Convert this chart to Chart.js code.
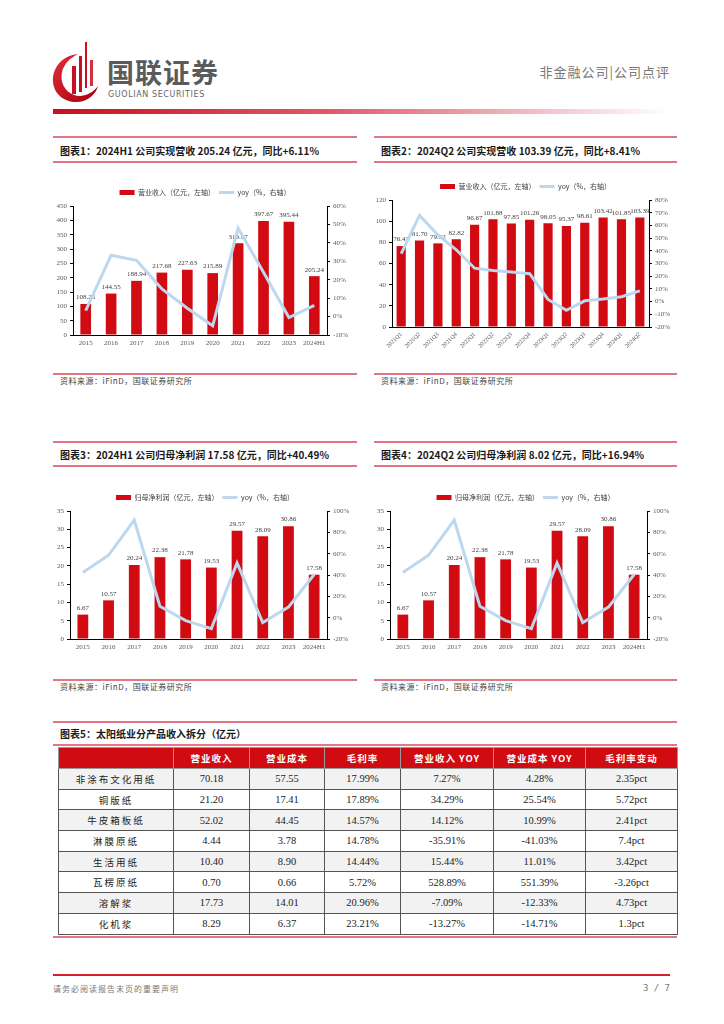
<!doctype html>
<html lang="zh-CN">
<head>
<meta charset="UTF-8" />
<title>太阳纸业 公司点评</title>
<script src="https://cdn.jsdelivr.net/npm/chart.js"></script>
<style>
  body { margin: 0; width: 724px; height: 1024px; position: relative; background: #fff; font-family: "Noto Sans CJK SC", sans-serif; overflow: hidden; }
  .pink { position: absolute; height: 2px; background: #e27686; }
  .ttl { position: absolute; font-size: 10px; font-weight: bold; color: #1a1a1a; white-space: nowrap; line-height: 12px; }
  .src { position: absolute; font-size: 8px; color: #444; white-space: nowrap; line-height: 10px; letter-spacing: 0.5px; }
  canvas { position: absolute; }
  #brand { position: absolute; left: 107px; top: 56px; font-size: 27px; font-weight: bold; color: #5b5b5b; letter-spacing: 1px; line-height: 32px; }
  #brandEn { position: absolute; left: 108px; top: 90px; font-family: "DejaVu Sans", sans-serif; font-size: 8px; color: #666; letter-spacing: 0.6px; line-height: 10px; }
  #section { position: absolute; right: 54px; top: 63px; font-size: 13px; color: #777; line-height: 18px; letter-spacing: 1px; }
  #bar { position: absolute; left: 53px; top: 109px; width: 617px; height: 5px; background: linear-gradient(to right, #c8101e, #e05a68 45%, #f3c3c9 80%, rgba(255,255,255,0)); }
  table { position: absolute; left: 58px; top: 747px; width: 619px; border-collapse: collapse; table-layout: fixed; }
  th { background: #d00c12; color: #fff; font-size: 9.5px; font-weight: bold; height: 20px; padding: 0; border: 1px solid #9a9a9a; letter-spacing: 1px; }
  td { height: 19.7px; padding: 0; text-align: center; border: 1px solid #555; font-family: "Liberation Serif", serif; font-size: 10.5px; color: #222; }
  td.name { font-family: "Noto Sans CJK SC", sans-serif; font-size: 9.5px; letter-spacing: 2px; }
  tr:nth-child(odd) td { background: #f2f2f2; }
  #foot { position: absolute; left: 53px; top: 983px; font-size: 8px; color: #777; letter-spacing: 1px; }
  #page { position: absolute; right: 54px; top: 983px; font-size: 9px; color: #777; font-family: "DejaVu Sans Mono", monospace; }
</style>
</head>
<body>
<script>
  // 数据
  const annualLabels = ['2015', '2016', '2017', '2018', '2019', '2020', '2021', '2022', '2023', '2024H1'];
  const revenue = [108.25, 144.55, 188.94, 217.68, 227.63, 215.89, 319.97, 397.67, 395.44, 205.24];
  const revenueYoy = [3.2, 33.3, 30.5, 15.0, 4.5, -5.0, 48.0, 24.0, -0.5, 6.1];

  const quarterLabels = ['2021Q1', '2021Q2', '2021Q3', '2021Q4', '2022Q1', '2022Q2', '2022Q3', '2022Q4', '2023Q1', '2023Q2', '2023Q3', '2023Q4', '2024Q1', '2024Q2'];
  const qRevenue = [76.43, 81.70, 79.02, 82.82, 96.67, 101.88, 97.85, 101.26, 98.05, 95.37, 98.61, 103.42, 101.85, 103.39];
  const qRevenueYoy = [37.7, 67.9, 52.5, 40.8, 26.3, 24.4, 23.4, 22.0, 1.7, -6.8, 0.6, 2.0, 3.8, 8.4];

  const netProfit = [6.67, 10.57, 20.24, 22.38, 21.78, 19.53, 29.57, 28.09, 30.86, 17.58];
  const netProfitYoy = [42.3, 58.5, 91.5, 10.6, -2.8, -10.3, 51.4, -4.6, 9.9, 40.5];

  const tableHead = ['', '营业收入', '营业成本', '毛利率', '营业收入 YOY', '营业成本 YOY', '毛利率变动'];
  const products = ['非涂布文化用纸', '铜版纸', '牛皮箱板纸', '淋膜原纸', '生活用纸', '瓦楞原纸', '溶解浆', '化机浆'];
  const prodRevenue = ['70.18', '21.20', '52.02', '4.44', '10.40', '0.70', '17.73', '8.29'];
  const prodCost = ['57.55', '17.41', '44.45', '3.78', '8.90', '0.66', '14.01', '6.37'];
  const prodMargin = ['17.99%', '17.89%', '14.57%', '14.78%', '14.44%', '5.72%', '20.96%', '23.21%'];
  const prodRevYoy = ['7.27%', '34.29%', '14.12%', '-35.91%', '15.44%', '528.89%', '-7.09%', '-13.27%'];
  const prodCostYoy = ['4.28%', '25.54%', '10.99%', '-41.03%', '11.01%', '551.39%', '-12.33%', '-14.71%'];
  const prodMarginChg = ['2.35pct', '5.72pct', '2.41pct', '7.4pct', '3.42pct', '-3.26pct', '4.73pct', '1.3pct'];
</script>

<!-- 页眉 -->
<svg style="position:absolute;left:48px;top:40px" width="56" height="64" viewBox="0 0 56 64">
  <defs>
    <linearGradient id="lg" x1="0" y1="0" x2="1" y2="1">
      <stop offset="0" stop-color="#e0303a" />
      <stop offset="1" stop-color="#a8000c" />
    </linearGradient>
  </defs>
  <path d="M30 14 C12 16 4 30 5 42 C6 54 16 62 28 62 C40 62 48 54 50 46 C44 54 34 58 26 55 C16 51 12 42 14 32 C16 24 22 18 30 14 Z" fill="url(#lg)" />
  <rect x="24" y="26" width="4" height="28" fill="#c8101e" />
  <rect x="31" y="16" width="3" height="36" fill="#c8101e" />
  <rect x="37" y="2" width="2" height="46" fill="#c8101e" />
  <rect x="42" y="20" width="3" height="26" fill="#d23040" />
</svg>
<div id="brand">国联证券</div>
<div id="brandEn">GUOLIAN SECURITIES</div>
<div id="section">非金融公司|公司点评</div>
<div id="bar"></div>

<!-- 图表1 / 图表2 -->
<div class="pink" style="left:53px;top:136px;width:304px"></div>
<div class="pink" style="left:374px;top:136px;width:303px"></div>
<div class="ttl" style="left:60px;top:145px">图表1：2024H1 公司实现营收 205.24 亿元，同比+6.11%</div>
<div class="ttl" style="left:381px;top:145px">图表2：2024Q2 公司实现营收 103.39 亿元，同比+8.41%</div>
<div class="pink" style="left:53px;top:161px;width:304px"></div>
<div class="pink" style="left:374px;top:161px;width:303px"></div>
<canvas id="c1" width="304" height="180" style="left:53px;top:175px"></canvas>
<canvas id="c2" width="303" height="187" style="left:374px;top:170px"></canvas>
<div class="pink" style="left:53px;top:373px;width:304px"></div>
<div class="pink" style="left:374px;top:373px;width:303px"></div>
<div class="src" style="left:60px;top:376px">资料来源：iFinD，国联证券研究所</div>
<div class="src" style="left:381px;top:376px">资料来源：iFinD，国联证券研究所</div>

<!-- 图表3 / 图表4 -->
<div class="pink" style="left:53px;top:441px;width:304px"></div>
<div class="pink" style="left:374px;top:441px;width:303px"></div>
<div class="ttl" style="left:60px;top:449px">图表3：2024H1 公司归母净利润 17.58 亿元，同比+40.49%</div>
<div class="ttl" style="left:381px;top:449px">图表4：2024Q2 公司归母净利润 8.02 亿元，同比+16.94%</div>
<div class="pink" style="left:53px;top:465px;width:304px"></div>
<div class="pink" style="left:374px;top:465px;width:303px"></div>
<canvas id="c3" width="304" height="179" style="left:53px;top:480px"></canvas>
<canvas id="c4" width="303" height="179" style="left:374px;top:480px"></canvas>
<div class="pink" style="left:53px;top:679px;width:304px"></div>
<div class="pink" style="left:374px;top:679px;width:303px"></div>
<div class="src" style="left:60px;top:682px">资料来源：iFinD，国联证券研究所</div>
<div class="src" style="left:381px;top:682px">资料来源：iFinD，国联证券研究所</div>

<!-- 图表5 -->
<div class="pink" style="left:53px;top:721px;width:624px"></div>
<div class="ttl" style="left:60px;top:728px">图表5：太阳纸业分产品收入拆分（亿元）</div>
<div class="pink" style="left:53px;top:744px;width:624px"></div>
<table id="tbl">
  <colgroup>
    <col style="width:115px" /><col style="width:76px" /><col style="width:75px" /><col style="width:76px" />
    <col style="width:93px" /><col style="width:92px" /><col style="width:92px" />
  </colgroup>
  <thead><tr id="thead"></tr></thead>
  <tbody id="tbody"></tbody>
</table>
<div class="pink" style="left:53px;top:936px;width:624px"></div>

<!-- 页脚 -->
<div style="position:absolute;left:53px;top:974px;width:617px;height:2px;background:#d4202c"></div>
<div id="foot">请务必阅读报告末页的重要声明</div>
<div id="page">3 / 7</div>

<script>
  // 表格
  document.getElementById('thead').innerHTML = tableHead.map((h) => `<th>${h}</th>`).join('');
  document.getElementById('tbody').innerHTML = products
    .map((p, i) => `<tr><td class="name">${p}</td><td>${prodRevenue[i]}</td><td>${prodCost[i]}</td><td>${prodMargin[i]}</td><td>${prodRevYoy[i]}</td><td>${prodCostYoy[i]}</td><td>${prodMarginChg[i]}</td></tr>`)
    .join('');

  const RED = '#d20a11';
  const BLUE = '#bdd7ee';
  const tickFont = { family: 'Liberation Serif', size: 7 };

  // 柱子上方的数值
  const barValues = {
    id: 'barValues',
    afterDatasetDraw(chart, args) {
      if (args.index !== 0) return;
      const ctx = chart.ctx;
      const data = chart.data.datasets[0].data;
      ctx.save();
      ctx.font = '7px "Liberation Serif"';
      ctx.fillStyle = '#404040';
      ctx.textAlign = 'center';
      ctx.textBaseline = 'bottom';
      args.meta.data.forEach((bar, i) => {
        ctx.fillText(data[i].toFixed(2), bar.x, bar.y - 3);
      });
      ctx.restore();
    },
  };

  function buildChart(id, cfg) {
    const axisGrid = { display: true, drawOnChartArea: false, drawTicks: true, tickLength: 3, color: '#000' };
    return new Chart(document.getElementById(id), {
      type: 'bar',
      data: {
        labels: cfg.labels,
        datasets: [
          {
            label: cfg.barLabel,
            data: cfg.bars,
            backgroundColor: RED,
            borderWidth: 0,
            yAxisID: 'y',
            order: 1,
            categoryPercentage: 1,
            barPercentage: cfg.barPct,
            pointStyle: 'rect',
          },
          {
            label: 'yoy（%，右轴）',
            type: 'line',
            data: cfg.yoy,
            borderColor: BLUE,
            backgroundColor: BLUE,
            borderWidth: 3,
            pointRadius: 0,
            tension: 0,
            yAxisID: 'y1',
            order: 0,
            pointStyle: 'line',
          },
        ],
      },
      options: {
        responsive: false,
        devicePixelRatio: 1,
        animation: false,
        layout: { padding: { top: cfg.padTop, left: 0, right: 0, bottom: 0 } },
        plugins: {
          tooltip: { enabled: false },
          legend: {
            position: 'top',
            labels: {
              usePointStyle: true,
              pointStyleWidth: 15,
              boxHeight: 5,
              padding: 4,
              color: '#404040',
              font: { family: 'Noto Sans CJK SC', size: 7 },
              sort: (a, b) => a.datasetIndex - b.datasetIndex,
            },
          },
        },
        scales: {
          x: {
            grid: { display: false, drawTicks: false },
            border: { display: true, color: '#000', width: 1 },
            ticks: {
              color: '#595959',
              font: { family: 'Liberation Serif', size: cfg.xFont },
              padding: 4,
              autoSkip: false,
              minRotation: cfg.rot,
              maxRotation: cfg.rot,
            },
            afterFit(s) { s.height = cfg.bottomH; },
          },
          y: {
            position: 'left',
            min: cfg.yMin, max: cfg.yMax,
            ticks: { stepSize: cfg.yStep, color: '#595959', font: tickFont, padding: 3 },
            grid: axisGrid,
            border: { display: true, color: '#000', width: 1 },
            afterFit(s) { s.width = cfg.leftW; },
          },
          y1: {
            position: 'right',
            min: cfg.rMin, max: cfg.rMax,
            ticks: { stepSize: cfg.rStep, color: '#595959', font: tickFont, padding: 3, callback: (v) => v + '%' },
            grid: axisGrid,
            border: { display: true, color: '#000', width: 1 },
            afterFit(s) { s.width = cfg.rightW; },
          },
        },
      },
      plugins: [barValues],
    });
  }

  buildChart('c1', {
    labels: annualLabels, bars: revenue, yoy: revenueYoy, barLabel: '营业收入（亿元，左轴）',
    barPct: 0.42, padTop: 10, leftW: 20, rightW: 30, bottomH: 20, xFont: 7, rot: 0,
    yMin: 0, yMax: 450, yStep: 50, rMin: -10, rMax: 60, rStep: 10,
  });
  buildChart('c2', {
    labels: quarterLabels, bars: qRevenue, yoy: qRevenueYoy, barLabel: '营业收入（亿元，左轴）',
    barPct: 0.5, padTop: 9, leftW: 18, rightW: 28, bottomH: 30, xFont: 6, rot: 45,
    yMin: 0, yMax: 120, yStep: 20, rMin: -20, rMax: 80, rStep: 10,
  });
  buildChart('c3', {
    labels: annualLabels, bars: netProfit, yoy: netProfitYoy, barLabel: '归母净利润（亿元，左轴）',
    barPct: 0.42, padTop: 10, leftW: 17, rightW: 30, bottomH: 20, xFont: 7, rot: 0,
    yMin: 0, yMax: 35, yStep: 5, rMin: -20, rMax: 100, rStep: 20,
  });
  buildChart('c4', {
    labels: annualLabels, bars: netProfit, yoy: netProfitYoy, barLabel: '归母净利润（亿元，左轴）',
    barPct: 0.42, padTop: 10, leftW: 16, rightW: 30, bottomH: 20, xFont: 7, rot: 0,
    yMin: 0, yMax: 35, yStep: 5, rMin: -20, rMax: 100, rStep: 20,
  });
</script>
</body>
</html>
